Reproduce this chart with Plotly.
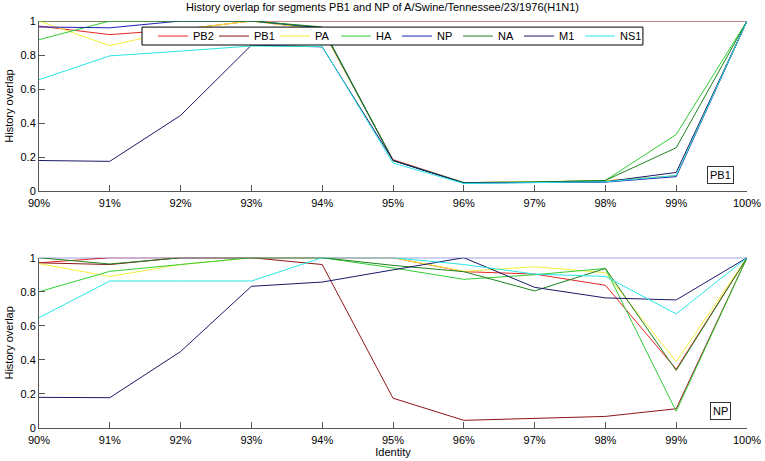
import plotly.graph_objects as go
from plotly.subplots import make_subplots

identity = [90, 91, 92, 93, 94, 95, 96, 97, 98, 99, 100]
tick_labels = ["90%", "91%", "92%", "93%", "94%", "95%", "96%", "97%", "98%", "99%", "100%"]
segments = ["PB2", "PB1", "PA", "HA", "NP", "NA", "M1", "NS1"]
colors = ["rgb(232,36,36)", "rgb(140,22,22)", "rgb(240,240,60)", "rgb(50,205,50)",
          "rgb(30,30,180)", "rgb(30,130,30)", "rgb(25,25,105)", "rgb(40,230,230)"]

# Overlap with segment PB1
pb1_PB2 = [0.97, 0.92, 0.95, 1.0, 0.95, 0.185, 0.05, 0.053, 0.06, 0.09, 1.0]
pb1_PB1 = [1.0, 1.0, 1.0, 1.0, 1.0, 1.0, 1.0, 1.0, 1.0, 1.0, 1.0]
pb1_PA = [1.0, 0.855, 0.95, 1.0, 0.95, 0.18, 0.05, 0.053, 0.06, 0.09, 1.0]
pb1_HA = [0.89, 1.0, 1.0, 1.0, 0.96, 0.18, 0.05, 0.053, 0.063, 0.333, 1.0]
pb1_NP = [0.965, 0.96, 1.0, 1.0, 0.96, 0.18, 0.048, 0.05, 0.053, 0.085, 1.0]
pb1_NA = [1.0, 1.0, 1.0, 1.0, 0.965, 0.18, 0.05, 0.053, 0.063, 0.255, 1.0]
pb1_M1 = [0.18, 0.175, 0.445, 0.858, 0.848, 0.18, 0.048, 0.05, 0.055, 0.11, 1.0]
pb1_NS1 = [0.655, 0.795, 0.823, 0.853, 0.85, 0.165, 0.045, 0.05, 0.055, 0.092, 1.0]

# Overlap with segment NP
np_PB2 = [0.97, 1.0, 1.0, 1.0, 1.0, 1.0, 0.918, 0.904, 0.838, 0.346, 1.0]
np_PB1 = [0.97, 0.96, 1.0, 1.0, 0.96, 0.175, 0.045, 0.055, 0.068, 0.113, 1.0]
np_PA = [0.965, 0.89, 0.96, 1.0, 1.0, 1.0, 0.92, 0.947, 0.912, 0.39, 1.0]
np_HA = [0.80, 0.92, 0.96, 1.0, 1.0, 0.94, 0.873, 0.9, 0.937, 0.098, 1.0]
np_NP = [1.0, 1.0, 1.0, 1.0, 1.0, 1.0, 1.0, 1.0, 1.0, 1.0, 1.0]
np_NA = [1.0, 0.963, 1.0, 1.0, 1.0, 0.955, 0.918, 0.805, 0.937, 0.338, 1.0]
np_M1 = [0.18, 0.178, 0.449, 0.832, 0.857, 0.93, 1.0, 0.826, 0.764, 0.752, 1.0]
np_NS1 = [0.648, 0.863, 0.863, 0.863, 1.0, 1.0, 0.96, 0.904, 0.89, 0.67, 1.0]

top = [pb1_PB2, pb1_PB1, pb1_PA, pb1_HA, pb1_NP, pb1_NA, pb1_M1, pb1_NS1]
bottom = [np_PB2, np_PB1, np_PA, np_HA, np_NP, np_NA, np_M1, np_NS1]

FONT = "Liberation Sans, Arial, sans-serif"
fig = make_subplots(rows=2, cols=1)

for i, name in enumerate(segments):
    fig.add_trace(go.Scatter(x=identity, y=top[i], mode="lines", name=name,
                             line=dict(color=colors[i], width=1), showlegend=True),
                  row=1, col=1)
for i, name in enumerate(segments):
    fig.add_trace(go.Scatter(x=identity, y=bottom[i], mode="lines", name=name,
                             line=dict(color=colors[i], width=1), showlegend=False),
                  row=2, col=1)

axis_common = dict(showline=True, linecolor="#555", linewidth=1, ticks="inside",
                   tickcolor="#555", ticklen=6, showgrid=False, zeroline=False,
                   automargin=False,
                   tickfont=dict(family=FONT, size=11, color="black"))

fig.update_xaxes(range=[90, 100], tickvals=identity, ticktext=tick_labels,
                 ticklabelstandoff=2, **axis_common)
fig.update_yaxes(range=[0, 1], tickvals=[0, 0.2, 0.4, 0.6, 0.8, 1],
                 ticktext=["0", "0.2", "0.4", "0.6", "0.8", "1"], **axis_common)
fig.update_yaxes(title=dict(text="History overlap", font=dict(family=FONT, size=11), standoff=4))
fig.update_xaxes(title=dict(text="Identity", font=dict(family=FONT, size=11), standoff=1), row=2, col=1)

# legend frame
fig.add_shape(type="rect", xref="paper", yref="paper", x0=0.1455, x1=0.853, y0=0.941, y1=0.985,
              line=dict(color="black", width=1), fillcolor="white", layer="above")

fig.update_layout(
    width=765, height=461,
    margin=dict(l=39, r=18, t=21, b=33),
    plot_bgcolor="white", paper_bgcolor="white",
    xaxis=dict(domain=[0, 1]), yaxis=dict(domain=[0.582, 1.0]),
    xaxis2=dict(domain=[0, 1]), yaxis2=dict(domain=[0.0, 0.4184]),
    title=dict(text="History overlap for segments PB1 and NP of A/Swine/Tennessee/23/1976(H1N1)",
               x=0.5, xanchor="center", y=0.993, yanchor="top", automargin=False,
               font=dict(family=FONT, size=11, color="black")),
    legend=dict(orientation="h", x=0.161, xanchor="left", y=0.963, yanchor="middle",
                bgcolor="rgba(0,0,0,0)", borderwidth=0,
                font=dict(family=FONT, size=11, color="black"),
                entrywidth=16, tracegroupgap=0),
    font=dict(family=FONT, size=11, color="black"),
    showlegend=True,
)

fig.add_annotation(x=99.62, y=0.094, xref="x", yref="y", text="PB1", showarrow=False,
                   bordercolor="#333", borderwidth=1, borderpad=2, bgcolor="white",
                   font=dict(family=FONT, size=11, color="black"))
fig.add_annotation(x=99.62, y=0.1, xref="x2", yref="y2", text="NP", showarrow=False,
                   bordercolor="#333", borderwidth=1, borderpad=2, bgcolor="white",
                   font=dict(family=FONT, size=11, color="black"))

fig.write_html("out.html", config={"displayModeBar": False},
               post_script="document.body.style.margin='0';document.body.style.padding='0';")
